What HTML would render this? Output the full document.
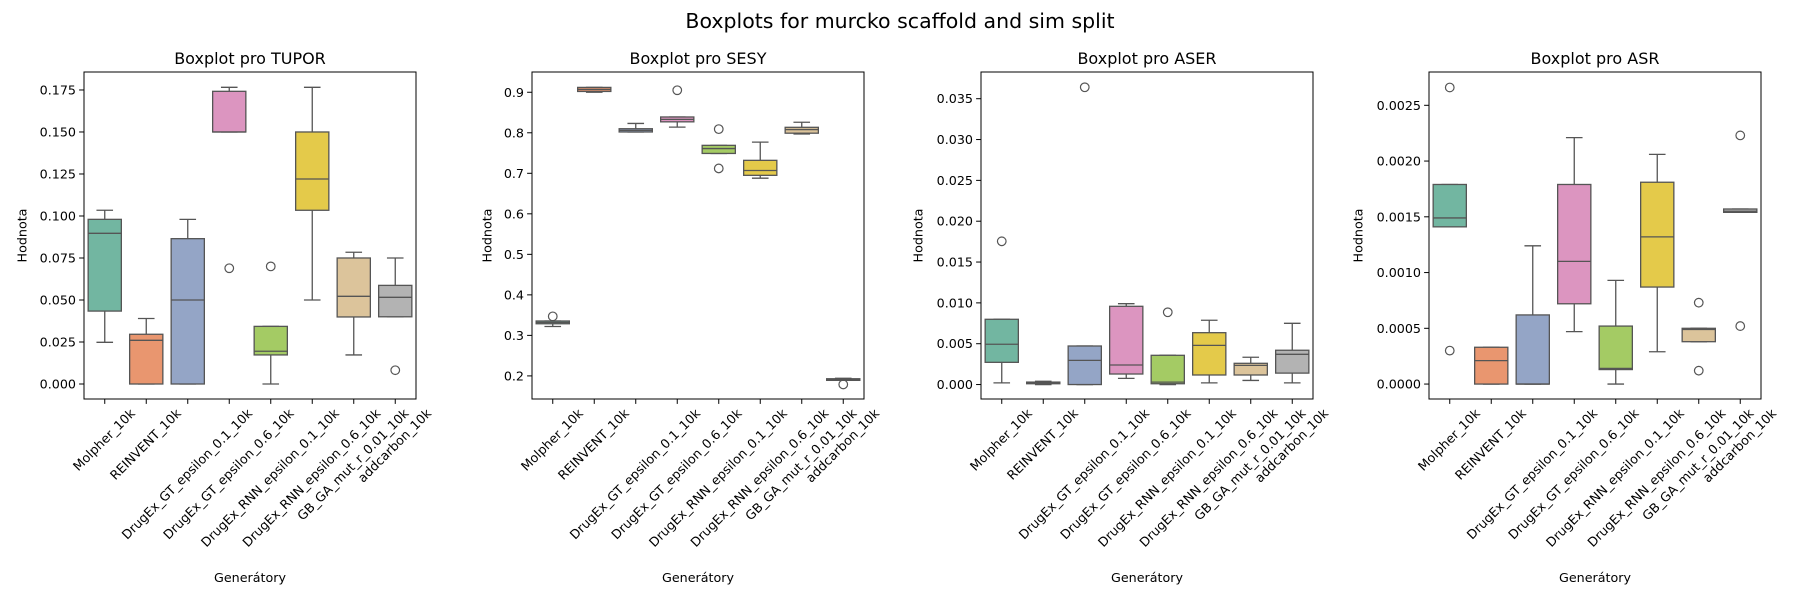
<!DOCTYPE html>
<html><head><meta charset="utf-8">
<style>
html,body{margin:0;padding:0;background:#fff;}
svg{display:block;font-family:"DejaVu Sans","Liberation Sans",sans-serif;}
</style></head>
<body>
<svg id="chart" width="1800" height="600" viewBox="0 0 1800 600" xmlns="http://www.w3.org/2000/svg">
<rect width="1800" height="600" fill="#fff"/>
<text x="900" y="28" font-size="20.5" text-anchor="middle" fill="#000">Boxplots for murcko scaffold and sim split</text>
</svg>
<script>
const categories = ["Molpher_10k","REINVENT_10k","DrugEx_GT_epsilon_0.1_10k","DrugEx_GT_epsilon_0.6_10k","DrugEx_RNN_epsilon_0.1_10k","DrugEx_RNN_epsilon_0.6_10k","GB_GA_mut_r_0.01_10k","addcarbon_10k"];
const colors = ["#72b6a1","#e9966f","#94a5c6","#dc95c0","#a4cb64","#e4ca4a","#dcc49b","#b3b3b3"];
// [whiskerLow, Q1, median, Q3, whiskerHigh]
const tuporStats = [[0.0248,0.0434,0.0897,0.098,0.1034],[0,0,0.026,0.0296,0.039],[0,0,0.05,0.0865,0.098],[0.150,0.150,0.150,0.1742,0.1766],[0,0.0173,0.0195,0.0343,0.0343],[0.050,0.1034,0.122,0.150,0.1766],[0.0173,0.0399,0.0522,0.075,0.0784],[0.040,0.040,0.0516,0.0587,0.075]];
const tuporOut = [[],[],[],[0.0689],[0.070],[],[],[0.0082]];
const sesyStats = [[0.322,0.3287,0.332,0.3355,0.3355],[0.900,0.902,0.907,0.912,0.912],[0.802,0.802,0.806,0.810,0.823],[0.814,0.827,0.833,0.839,0.839],[0.749,0.749,0.761,0.769,0.769],[0.688,0.695,0.707,0.732,0.777],[0.797,0.799,0.808,0.8135,0.826],[0.189,0.189,0.191,0.193,0.194]];
const sesyOut = [[0.347],[],[],[0.905],[0.809,0.712],[],[],[0.179]];
const aserStats = [[0.0002,0.00272,0.00493,0.00799,0.00799],[0,0.0001,0.0002,0.0003,0.0004],[0,0,0.00296,0.00472,0.00472],[0.00076,0.00129,0.00239,0.00958,0.0099],[0,0.0001,0.0003,0.00358,0.00358],[0.0002,0.00117,0.0048,0.00635,0.00787],[0.0005,0.00117,0.00235,0.0026,0.00334],[0.0002,0.0014,0.0037,0.0042,0.0075]];
const aserOut = [[0.01754],[],[0.0364],[],[0.00885],[],[],[]];
const asrStats = [[0.00141,0.00141,0.00149,0.00179,0.00179],[0,0,0.00021,0.00033,0.00033],[0,0,0,0.00062,0.00124],[0.00047,0.00072,0.0011,0.00179,0.00221],[0,0.00013,0.00014,0.00052,0.00093],[0.00029,0.00087,0.00132,0.00181,0.00206],[0.00038,0.00038,0.00049,0.0005,0.0005],[0.00154,0.00154,0.00155,0.00157,0.00157]];
const asrOut = [[0.00266,0.0003],[],[],[],[],[],[0.00073,0.00012],[0.00223,0.00052]];
const tuporTicks = ["0.000","0.025","0.050","0.075","0.100","0.125","0.150","0.175"];
const sesyTicks = ["0.2","0.3","0.4","0.5","0.6","0.7","0.8","0.9"];
const aserTicks = ["0.000","0.005","0.010","0.015","0.020","0.025","0.030","0.035"];
const asrTicks = ["0.0000","0.0005","0.0010","0.0015","0.0020","0.0025"];

const NS="http://www.w3.org/2000/svg";
const svg=document.getElementById("chart");
function mk(tag,attrs,parent){const e=document.createElementNS(NS,tag);for(const k in attrs)e.setAttribute(k,attrs[k]);(parent||svg).appendChild(e);return e;}

const panels=[
 {title:"Boxplot pro TUPOR",key:"tupor",left:84,ymin:-0.00893,ymax:0.1857,stats:tuporStats,out:tuporOut,ticks:tuporTicks,ylx:22},
 {title:"Boxplot pro SESY",key:"sesy",left:532,ymin:0.143,ymax:0.950,stats:sesyStats,out:sesyOut,ticks:sesyTicks,ylx:487},
 {title:"Boxplot pro ASER",key:"aser",left:981,ymin:-0.00177,ymax:0.03827,stats:aserStats,out:aserOut,ticks:aserTicks,ylx:918},
 {title:"Boxplot pro ASR",key:"asr",left:1429,ymin:-0.000134,ymax:0.0027987,stats:asrStats,out:asrOut,ticks:asrTicks,ylx:1358}
];
const TOP=72,BOT=399,W=332,LINE="#555";
panels.forEach(p=>{
  const g=mk("g",{});
  
  
  const y=v=>BOT-(v-p.ymin)/(p.ymax-p.ymin)*(BOT-TOP);
  const step=W/categories.length;
  const x=i=>p.left+step*(i+0.5);
  const bw=step*0.8;
  // y ticks
  p.ticks.forEach(t=>{
    const yy=y(parseFloat(t));
    const tl=mk("line",{x1:p.left-4.9,x2:p.left,y1:yy,y2:yy,stroke:"#000","stroke-width":1},g);
    
    
    const tx=mk("text",{x:p.left-8,y:yy+4.5,"font-size":12.7,"text-anchor":"end",fill:"#000"},g);
    
    
    tx.textContent=t;
  });
  // boxes
  p.stats.forEach((s,i)=>{
    const cx=x(i);
    const bg=mk("g",{},g);
    
    
    const cw=bw/2;
    mk("line",{x1:cx,x2:cx,y1:y(s[0]),y2:y(s[1]),stroke:LINE,"stroke-width":1.3},bg);
    mk("line",{x1:cx,x2:cx,y1:y(s[3]),y2:y(s[4]),stroke:LINE,"stroke-width":1.3},bg);
    mk("line",{x1:cx-cw/2,x2:cx+cw/2,y1:y(s[0]),y2:y(s[0]),stroke:LINE,"stroke-width":1.3},bg);
    mk("line",{x1:cx-cw/2,x2:cx+cw/2,y1:y(s[4]),y2:y(s[4]),stroke:LINE,"stroke-width":1.3},bg);
    const yt=y(s[3]),yb=y(s[1]);
    mk("rect",{x:cx-bw/2,y:yt,width:bw,height:Math.max(yb-yt,0.5),fill:colors[i],stroke:LINE,"stroke-width":1.3},bg);
    mk("line",{x1:cx-bw/2,x2:cx+bw/2,y1:y(s[2]),y2:y(s[2]),stroke:LINE,"stroke-width":1.3},bg);
    p.out[i].forEach(o=>{
      const c=mk("circle",{cx:cx,cy:y(o),r:4.3,fill:"none",stroke:LINE,"stroke-width":1.2},bg);
      
      
    });
    // x tick + label
    mk("line",{x1:cx,x2:cx,y1:BOT,y2:BOT+4.9,stroke:"#000","stroke-width":1},g);
    const lab=mk("text",{"font-size":12.7,"text-anchor":"end",fill:"#000"},g);
    
    
    lab.textContent=categories[i];
    const L=lab.getComputedTextLength();
    const asc=12.7*0.76,desc=12.7*0.24;
    const px=cx+(L+asc-desc)*0.35355, py=BOT+4.9+3.5+asc*0.7071;
    lab.setAttribute("transform","translate("+px+","+py+") rotate(-45)");
  });
  const fr=mk("rect",{x:p.left,y:TOP,width:W,height:BOT-TOP,fill:"none",stroke:"#000","stroke-width":1},g);
  
  
  const tt=mk("text",{x:p.left+W/2,y:64,"font-size":16,"text-anchor":"middle",fill:"#000"},g);
  
  
  tt.textContent=p.title;
  const xl=mk("text",{x:p.left+W/2,y:582,"font-size":12.7,"text-anchor":"middle",fill:"#000"},g);
  
  
  xl.textContent="Generátory";
  const yl=mk("text",{x:0,y:0,"font-size":12.7,"text-anchor":"middle",fill:"#000",transform:"translate("+(p.ylx+4.5)+","+((TOP+BOT)/2)+") rotate(-90)"},g);
  
  
  yl.textContent="Hodnota";
});
</script>
</body></html>
